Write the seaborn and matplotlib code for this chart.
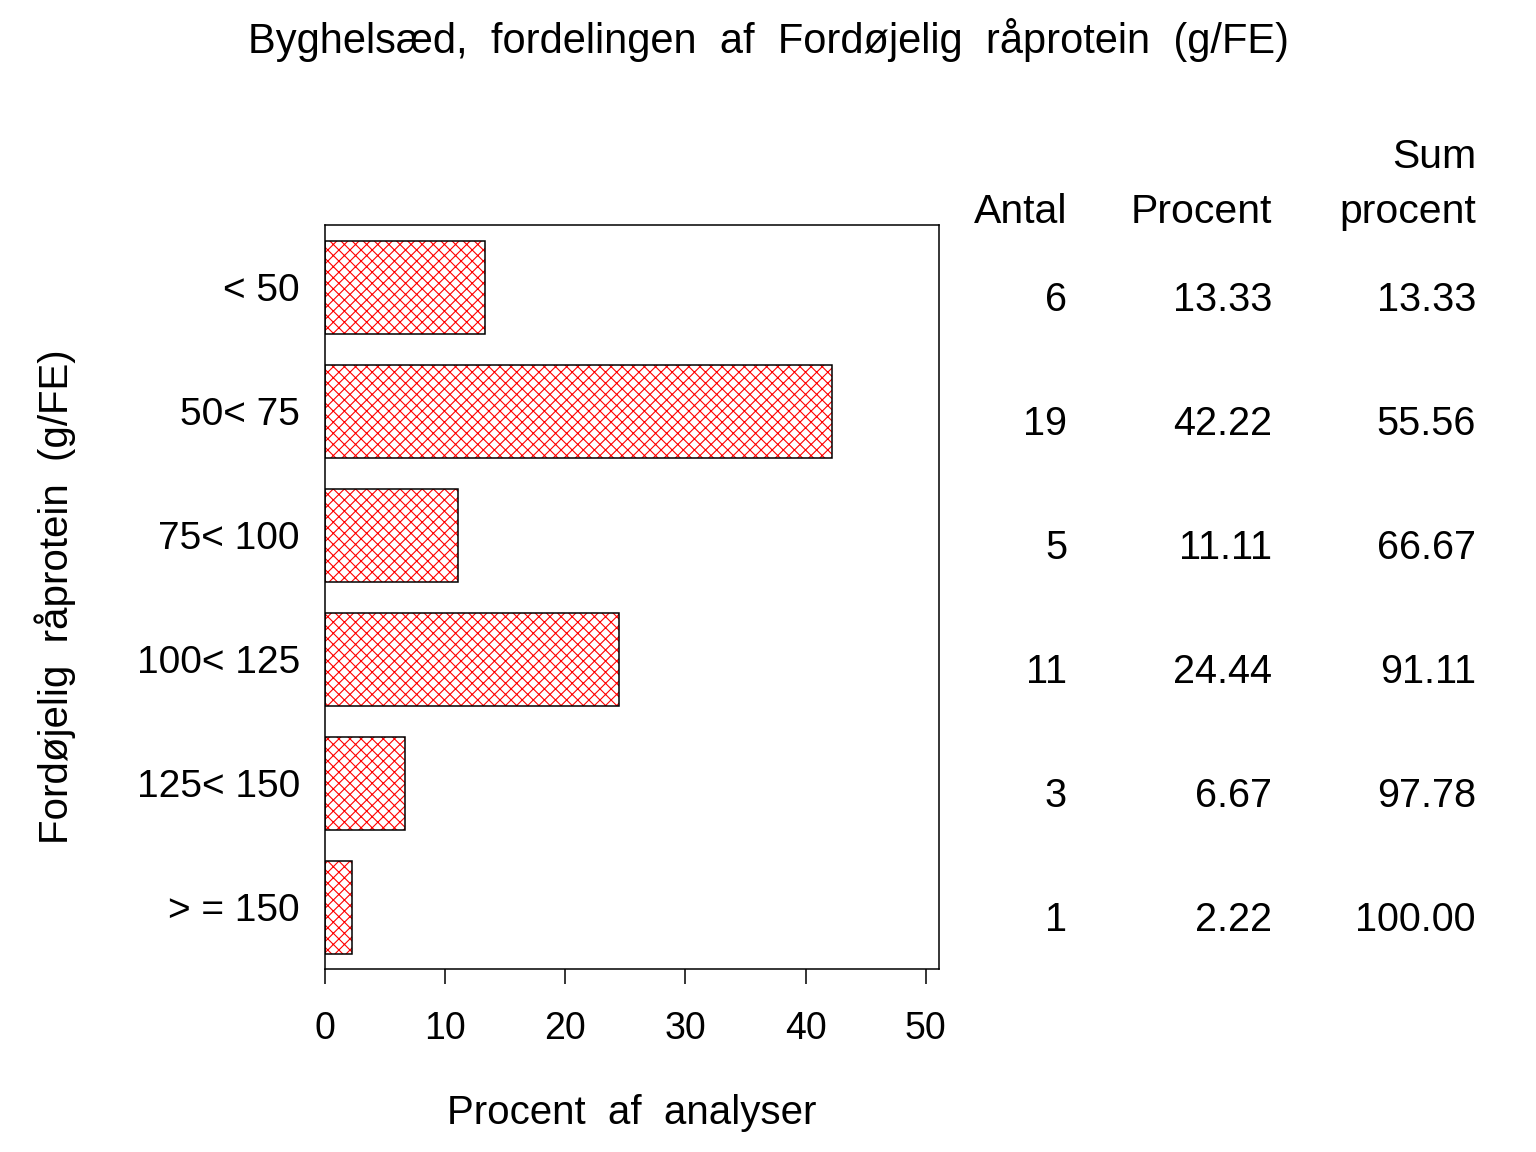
import matplotlib
matplotlib.use("Agg")
import matplotlib.pyplot as plt
import matplotlib.transforms as mtransforms
import seaborn as sns
import pandas as pd

categories = ["< 50", "50< 75", "75< 100", "100< 125", "125< 150", "> = 150"]
antal = [6, 19, 5, 11, 3, 1]
procent = [13.33, 42.22, 11.11, 24.44, 6.67, 2.22]
sum_procent = [13.33, 55.56, 66.67, 91.11, 97.78, 100.00]
x_ticks = [0, 10, 20, 30, 40, 50]

title = "Byghelsæd,  fordelingen  af  Fordøjelig  råprotein  (g/FE)"
xlabel = "Procent  af  analyser"
ylabel = "Fordøjelig  råprotein  (g/FE)"

sns.set_theme(style="white")
plt.rcParams["font.family"] = ["Liberation Sans", "DejaVu Sans"]
plt.rcParams["hatch.linewidth"] = 0.8
for k in ["text.color", "axes.labelcolor", "xtick.color", "ytick.color"]:
    plt.rcParams[k] = "black"

df = pd.DataFrame({"cat": categories, "pct": procent})

fig = plt.figure(figsize=(15.36, 11.52), dpi=100)
ax = fig.add_axes([325/1536, 1 - 969/1152, (939-325)/1536, (969-225)/1152])

# red cross-hatched fill
sns.barplot(data=df, x="pct", y="cat", order=categories, ax=ax,
            color="white", edgecolor="red", linewidth=0, width=0.75,
            hatch="xxx")
for p in ax.patches:
    p.set_hatch("xxx")
    p.set_facecolor("white")
    p.set_edgecolor("red")
    p.set_linewidth(0)
# black outlines
sns.barplot(data=df, x="pct", y="cat", order=categories, ax=ax,
            fill=False, edgecolor="black", linewidth=1.1, width=0.75)

ax.set_xlim(0, 51.1)
ax.set_ylim(5.5, -0.5)
ax.set_xticks(x_ticks)
ax.set_xticklabels([str(t) for t in x_ticks])
ax.tick_params(axis="x", direction="out", length=11, width=1.1, color="black",
               labelsize=27, pad=19, bottom=True)
ax.tick_params(axis="y", length=0, labelsize=28, pad=18, left=False)
for s in ax.spines.values():
    s.set_visible(True)
    s.set_color("black")
    s.set_linewidth(1.1)

ax.set_xlabel(xlabel, fontsize=29, labelpad=34)
ax.set_ylabel(ylabel, fontsize=29, labelpad=44)

fig.text(0.5, 1 - 40/1152, title, ha="center", va="center", fontsize=30)

# side table
trans = mtransforms.blended_transform_factory(fig.transFigure, ax.transData)
off = mtransforms.ScaledTranslation(0, -13/100, fig.dpi_scale_trans)
col_x = [1067/1536, 1272/1536, 1476/1536]
for i in range(len(categories)):
    vals = [f"{antal[i]}", f"{procent[i]:.2f}", f"{sum_procent[i]:.2f}"]
    for cx, v in zip(col_x, vals):
        ax.text(cx, i, v, transform=trans + off, ha="right", va="center",
                fontsize=28.5, clip_on=False)

fig.text(col_x[0], 1 - 212/1152, "Antal", ha="right", va="center", fontsize=29.5)
fig.text(col_x[1], 1 - 212/1152, "Procent", ha="right", va="center", fontsize=29.5)
fig.text(col_x[2], 1 - 157/1152, "Sum", ha="right", va="center", fontsize=29.5)
fig.text(col_x[2], 1 - 212/1152, "procent", ha="right", va="center", fontsize=29.5)

fig.savefig("out.png", dpi=100, facecolor="white")
